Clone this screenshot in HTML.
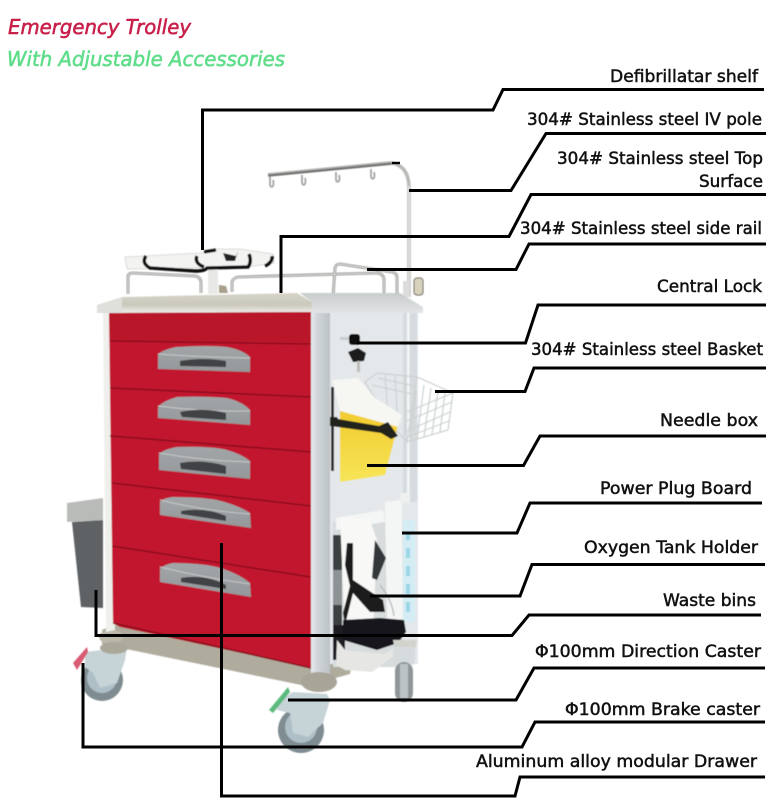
<!DOCTYPE html>
<html lang="en">
<head>
<meta charset="utf-8">
<title>Emergency Trolley</title>
<style>
html,body{margin:0;padding:0;background:#fff;width:767px;height:800px;overflow:hidden}
svg{display:block}
.l{font-family:"DejaVu Sans","Liberation Sans",sans-serif;font-size:17px;fill:#111;stroke:#111;stroke-width:.5}
.t{font-family:"DejaVu Sans","Liberation Sans",sans-serif;font-style:italic;font-size:20px;stroke-width:.55}
.c{fill:none;stroke:#000;stroke-width:3;stroke-linejoin:miter}
.g{fill:none;stroke:#cdd1d2;stroke-width:1.2}
</style>
</head>
<body>
<svg width="767" height="800" viewBox="0 0 767 800" xmlns="http://www.w3.org/2000/svg">
<defs>
<linearGradient id="steel" x1="0" y1="0" x2="0" y2="1"><stop offset="0" stop-color="#d6d4ca"/><stop offset=".6" stop-color="#cbc9bc"/><stop offset="1" stop-color="#efefeb"/></linearGradient>
<linearGradient id="steel2" x1="0" y1="0" x2="0" y2="1"><stop offset="0" stop-color="#c9cccc"/><stop offset="1" stop-color="#e2e5e6"/></linearGradient>
<linearGradient id="post" x1="0" y1="0" x2="1" y2="0"><stop offset="0" stop-color="#e8ebec"/><stop offset=".35" stop-color="#d0d6d9"/><stop offset="1" stop-color="#bcc2c5"/></linearGradient>
<linearGradient id="hdl" x1="0" y1="0" x2="0" y2="1"><stop offset="0" stop-color="#a2a6a8"/><stop offset="1" stop-color="#94989a"/></linearGradient>
<linearGradient id="yel" x1="0" y1="0" x2="0" y2="1"><stop offset="0" stop-color="#f2ca2e"/><stop offset="1" stop-color="#f6e557"/></linearGradient>
<filter id="soft" x="-5%" y="-5%" width="110%" height="110%"><feGaussianBlur stdDeviation=".45"/></filter>
</defs>

<g filter="url(#soft)">
<!-- waste bin -->
<polygon points="72,522 103,520 103,608 81,607" fill="#5e6265"/>
<polygon points="67,503 103,498 103,520 67,522" fill="#b8bbb7"/>

<!-- IV pole -->
<path d="M409,297 V186 Q408,166 392,163" fill="none" stroke="#b9b9b6" stroke-width="3.5"/>
<path d="M409,297 V186" fill="none" stroke="#efefed" stroke-width="1.2"/>
<path d="M268,175 L392,163" fill="none" stroke="#6f706e" stroke-width="3.6"/>
<path d="M268,174 L392,162" fill="none" stroke="#bdbdb9" stroke-width="1"/>
<g fill="none" stroke="#9a9a98" stroke-width="1.6">
<path d="M270,176 V185 Q271,188 273,186 Q274,184 273,180"/>
<path d="M302,175 V183 Q303,186 305,184 Q306,182 305,178"/>
<path d="M336,172 V180 Q337,183 339,181 Q340,179 339,175"/>
<path d="M371,169 V177 Q372,180 374,178 Q375,176 374,172"/>
</g>
<rect x="403" y="281" width="7" height="16" fill="#dcdcdc"/>
<rect x="414" y="278" width="9" height="17" rx="3" fill="#d8d2bd" stroke="#67635a"/>

<!-- rails -->
<g fill="none" stroke="#8f8f8c" stroke-width="2.8">
<path d="M128,294 V277 Q128,273 133,273 L195,276 Q201,277 201,283 V293"/>
<path d="M232,292 V282 Q233,278 238,277 L376,273 Q383,273 384,279 V293"/>
<path d="M333,297 L335,268 Q336,264 340,264 L392,272 Q397,273 397,278 V293"/>
</g>
<g fill="none" stroke="#e4e4e2" stroke-width="1">
<path d="M128,294 V277 Q128,273 133,273 L195,276 Q201,277 201,283 V293"/>
<path d="M232,292 V282 Q233,278 238,277 L376,273 Q383,273 384,279 V293"/>
<path d="M333,297 L335,268 Q336,264 340,264 L392,272 Q397,273 397,278 V293"/>
</g>

<!-- defibrillator shelf -->
<rect x="208" y="268" width="10" height="26" fill="#e8e8e6"/>
<path d="M219,285 L226,286 L228,293 H219 Z" fill="#a89f8a"/>
<polygon points="125,257 200,253 212,249 240,249 273,254 274,263 240,268 200,268 127,269" fill="#f3f3f1" stroke="#d2d2ce" stroke-width=".8"/>
<path d="M146,256 Q141,263 150,268 L195,271 Q205,271 207,268 L248,267 Q252,262 249,254" fill="none" stroke="#0c0c0c" stroke-width="3.4"/>
<path d="M197,256 Q194,263 204,267 M272,256 Q273,262 265,266 M204,252 L216,250" fill="none" stroke="#0c0c0c" stroke-width="3.4"/>
<polygon points="223,253 236,256 238,251 235,261 226,261" fill="#222"/>

<!-- base -->
<polygon points="102,630 120,622 310,664 352,664 350,674 306,686 102,644" fill="#afac9e"/>
<ellipse cx="111" cy="637" rx="12" ry="7" fill="#bbb8ab"/>

<!-- side panel -->
<rect x="330" y="312" width="88" height="352" fill="#e4e8eb"/>
<rect x="403" y="312" width="14" height="190" fill="#d5dbde"/>
<rect x="407" y="312" width="2.5" height="190" fill="#f4f6f6"/>

<!-- left frame -->
<polygon points="103,312 110,312 115,630 106,632" fill="#efefeb"/>
<!-- red front -->
<polygon points="109,312 311,312 311,668 120,627 113,623" fill="#c2182e"/>
<g stroke="#8e0e1f" stroke-width="1.6">
<line x1="110" y1="341" x2="311" y2="344"/>
<line x1="110" y1="388" x2="311" y2="397"/>
<line x1="110" y1="436" x2="311" y2="452"/>
<line x1="112" y1="483" x2="311" y2="506"/>
<line x1="112" y1="546" x2="311" y2="577"/>
<line x1="113" y1="623" x2="311" y2="668"/>
</g>
<polygon points="109,312 311,312 311,342 110,340" fill="#b9172b"/>

<!-- post -->
<rect x="311" y="312" width="19" height="366" fill="url(#post)"/>
<ellipse cx="319" cy="682" rx="18" ry="10" fill="#a8a598"/>

<!-- top -->
<polygon points="300,293 400,293 423,307 423,313 312,313 312,302" fill="url(#steel2)"/>
<polygon points="97,305 123,297 297,293 312,302 312,312 97,313" fill="url(#steel)"/>
<polygon points="97,305 122,298 122,313 97,313" fill="#dfdfdb"/>

<!-- handles -->
<g>
<path d="M158,356 Q158,351 176,347 Q210,345 227,347 Q243,350 250,357 V372 L158,369 Z" fill="url(#hdl)"/>
<path d="M158,354 Q200,357 250,358" fill="none" stroke="#c6c9ca" stroke-width="1"/>
<path d="M180,361 Q203,357 226,361 V367 L180,366 Z" fill="#3f4244"/>
<path d="M158,408 Q160,402 177,397 Q205,396 227,398 Q243,402 250,410 V425 L158,418 Z" fill="url(#hdl)"/>
<path d="M158,406 Q205,412 250,411" fill="none" stroke="#c6c9ca" stroke-width="1"/>
<path d="M180,412 Q203,407 226,413 V420 L182,417 Z" fill="#3f4244"/>
<path d="M159,455 Q161,450 177,447 Q205,446 223,449 Q240,453 250,461 V479 L159,470 Z" fill="url(#hdl)"/>
<path d="M159,453 Q205,461 250,462" fill="none" stroke="#c6c9ca" stroke-width="1"/>
<path d="M180,463 Q203,459 226,466 V474 L181,469 Z" fill="#3f4244"/>
<path d="M160,502 Q163,498 173,497 Q200,497 217,500 Q238,505 250,513 L251,528 L160,515 Z" fill="url(#hdl)"/>
<path d="M160,500 Q205,511 250,514" fill="none" stroke="#c6c9ca" stroke-width="1"/>
<path d="M181,511 Q205,507 226,516 V521 L181,514 Z" fill="#3f4244"/>
<path d="M160,569 Q163,565 173,563 Q200,563 217,567 Q238,573 250,583 L251,597 L160,582 Z" fill="url(#hdl)"/>
<path d="M160,567 Q205,578 250,584" fill="none" stroke="#c6c9ca" stroke-width="1"/>
<path d="M181,578 Q205,574 226,585 V589 L181,582 Z" fill="#3f4244"/>
</g>

<!-- lock & keys -->
<rect x="340" y="337" width="10" height="3" fill="#c9cdcf"/>
<rect x="349" y="334" width="11" height="11" rx="3" fill="#111"/>
<polygon points="348,352 358,348 366,353 364,361 353,362" fill="#1b1b1b"/>
<rect x="357" y="361" width="3" height="11" fill="#bdbdb9"/>

<!-- basket -->
<g class="g">
<polygon points="365,382 377,373 417,377 453,393 448,430 407,442 393,427"/>
<path d="M417,377 L407,442 M453,393 L407,412 M452,402 L407,421 M450,412 L407,431 M449,421 L407,437"/>
<path d="M416,391 L410,441 M424,385 L417,439 M431,388 L424,437 M438,391 L432,434 M445,393 L440,432"/>
<path d="M372,385 L412,394 M378,378 L414,386 M385,375 L388,418 M395,376 L398,427 M405,376 L406,434"/>
</g>

<!-- needle box -->
<rect x="331" y="387" width="3" height="84" fill="#333"/>
<polygon points="340,408 398,425 385,475 340,482" fill="url(#yel)"/>
<polygon points="332,380 358,378 375,398 402,415 398,427 340,411" fill="#f6f6f2"/>
<polygon points="330,417 337,417 338,419 379,426 388,422 398,436 391,439 381,433 338,427 330,426" fill="#24241f"/>

<!-- oxygen / plug area -->
<rect x="333" y="522" width="70" height="145" fill="#d8dcdd"/>
<polygon points="336,518 383,510 385,522 336,530" fill="#f4f5f5"/>
<rect x="333" y="535" width="9" height="100" fill="#3b3f41"/>
<rect x="333" y="570" width="9" height="35" fill="#8d9294"/>
<rect x="333" y="625" width="12" height="35" fill="#1d1f20"/>
<!-- plug board -->
<polygon points="385,502 402,500 403,620 387,622" fill="#f4f6f6"/>
<rect x="403" y="520" width="12" height="102" fill="#d4ecf3"/>
<g fill="#9bd5e6"><rect x="406" y="532" width="4" height="8"/><rect x="406" y="548" width="4" height="10"/><rect x="406" y="566" width="4" height="10"/><rect x="406" y="584" width="4" height="10"/><rect x="406" y="602" width="4" height="10"/></g>
<rect x="400" y="493" width="10" height="10" rx="2" fill="#eef0f0"/>
<!-- holder -->
<polygon points="340,517 370,520 377,540 373,635 345,635" fill="#f8f8f6"/>
<polygon points="347,543 353,543 353,580 383,600 385,612 370,612 353,593 345,625 343,613 350,586 345,565" fill="#1c1c1c"/>
<polygon points="375,540 386,558 377,580 372,578" fill="#34383a"/>
<polygon points="343,620 380,618 404,620 406,632 398,643 377,650 343,640" fill="#17181a"/>
<polygon points="337,640 345,650 385,654 405,640 394,656 372,672 345,670 336,665" fill="#e6e7e5"/>
<path d="M380,585 Q392,600 394,616" fill="none" stroke="#b7bbbc" stroke-width="1.4"/>

<!-- right caster -->
<path d="M393,640 h24 l-2,10 h-20 z" fill="#d2d3cd"/>
<rect x="393" y="647" width="22" height="18" rx="3" fill="#d6dcdd"/>
<rect x="395" y="662" width="18" height="40" rx="9" fill="#8f9699"/>
<rect x="400" y="664" width="8" height="34" fill="#bcc3c5"/>

<!-- left caster -->
<circle cx="102" cy="680" r="21" fill="#7f8c92"/>
<circle cx="102" cy="678" r="15" fill="#aebfc7"/>
<polygon points="85,652 127,647 125,660 117,683 100,688 93,673 85,667" fill="#c6d3d7"/>
<ellipse cx="114" cy="648" rx="14" ry="6" fill="#a9a899"/>
<polygon points="73,663 87,647 88,652 77,670" fill="#d95a72"/>

<!-- front caster -->
<circle cx="301" cy="730" r="23" fill="#7f8c92"/>
<circle cx="301" cy="727" r="16" fill="#aebfc7"/>
<polygon points="293,692 327,694 330,700 323,723 308,737 293,733 290,713 277,710 277,702" fill="#c6d3d7"/>
<polygon points="269,710 288,687 290,692 273,713" fill="#5cba7c"/>
</g>

<!-- connectors -->
<g class="c">
<polyline points="764,89.5 503,89.5 493,110 202.5,110 202.5,250"/>
<polyline points="766,133.5 546,133.5 511,190.5 409,190.5"/>
<polyline points="766,194.5 531,194.5 509,236.5 281,236.5 281,293"/>
<polyline points="766,244 529,244 516,269.5 367,269.5"/>
<polyline points="766,305 538,305 525.5,343 357,343"/>
<polyline points="766,368 534,368 525,391.5 435,391.5"/>
<polyline points="766,436 540,436 523.5,465.5 367,465.5"/>
<polyline points="762,503 530,503 517,533 402,533"/>
<polyline points="765,564.5 532,564.5 520,596 370,596"/>
<polyline points="761,615 529,615 512,635.5 96,635.5 96,590"/>
<polyline points="765,668 534,668 516,700 288,700"/>
<polyline points="765,722 535,722 522,747 83,747 83,663"/>
<polyline points="765,777 520,777 515,796 221.5,796 221.5,543"/>
<path d="M392,163 H400" stroke-width="2.4"/>
</g>

<!-- title -->
<text class="t" x="8" y="34" fill="#c8204a" stroke="#c8204a" textLength="183" lengthAdjust="spacingAndGlyphs">Emergency Trolley</text>
<text class="t" x="7" y="66" fill="#5fdd8a" stroke="#5fdd8a" textLength="278" lengthAdjust="spacingAndGlyphs">With Adjustable Accessories</text>

<!-- labels -->
<text class="l" x="610" y="82" textLength="148" lengthAdjust="spacingAndGlyphs">Defibrillatar shelf</text>
<text class="l" x="527" y="125" textLength="235" lengthAdjust="spacingAndGlyphs">304# Stainless steel IV pole</text>
<text class="l" x="557" y="164" textLength="206" lengthAdjust="spacingAndGlyphs">304# Stainless steel Top</text>
<text class="l" x="699" y="187" textLength="64" lengthAdjust="spacingAndGlyphs">Surface</text>
<text class="l" x="520" y="234" textLength="242" lengthAdjust="spacingAndGlyphs">304# Stainless steel side rail</text>
<text class="l" x="657" y="292" textLength="105" lengthAdjust="spacingAndGlyphs">Central Lock</text>
<text class="l" x="531" y="355" textLength="232" lengthAdjust="spacingAndGlyphs">304# Stainless steel Basket</text>
<text class="l" x="660" y="426" textLength="98" lengthAdjust="spacingAndGlyphs">Needle box</text>
<text class="l" x="600" y="494" textLength="152" lengthAdjust="spacingAndGlyphs">Power Plug Board</text>
<text class="l" x="584" y="553" textLength="174" lengthAdjust="spacingAndGlyphs">Oxygen Tank Holder</text>
<text class="l" x="663" y="606" textLength="93" lengthAdjust="spacingAndGlyphs">Waste bins</text>
<text class="l" x="535" y="657" textLength="226" lengthAdjust="spacingAndGlyphs">Φ100mm Direction Caster</text>
<text class="l" x="565" y="715" textLength="195" lengthAdjust="spacingAndGlyphs">Φ100mm Brake caster</text>
<text class="l" x="476" y="767" textLength="281" lengthAdjust="spacingAndGlyphs">Aluminum alloy modular Drawer</text>
</svg>
</body>
</html>
